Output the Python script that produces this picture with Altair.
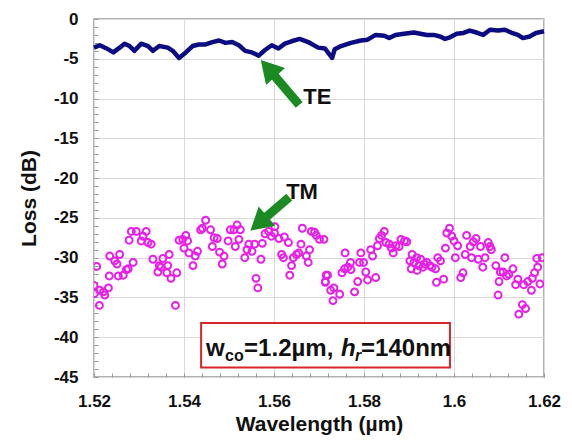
import altair as alt
import pandas as pd

# ---- TE trace (solid line) ----
te_wl = [1.5200, 1.5213, 1.5228, 1.5243, 1.5257, 1.5268, 1.5279, 1.5290, 1.5305, 1.5320,
         1.5331, 1.5345, 1.5364, 1.5375, 1.5389, 1.5404, 1.5419, 1.5433, 1.5448, 1.5463,
         1.5478, 1.5492, 1.5507, 1.5522, 1.5536, 1.5551, 1.5566, 1.5580, 1.5595, 1.5610,
         1.5624, 1.5639, 1.5657, 1.5676,
         1.5698, 1.5713, 1.5724, 1.5729, 1.5735, 1.5749, 1.5771, 1.5793, 1.5808, 1.5826,
         1.5845, 1.5856, 1.5870, 1.5889, 1.5911, 1.5925, 1.5940, 1.5955, 1.5969, 1.5980,
         1.5991, 1.6006, 1.6021, 1.6035, 1.6050, 1.6065, 1.6080, 1.6098, 1.6113, 1.6127,
         1.6142, 1.6153, 1.6168, 1.6182, 1.6200]
te_loss = [-3.6, -3.3, -3.7, -4.2, -3.6, -3.1, -3.4, -4.0, -3.1, -3.4,
           -4.0, -3.4, -3.6, -4.0, -4.9, -4.2, -3.4, -3.2, -3.2, -2.9,
           -2.7, -3.0, -2.9, -3.3, -4.0, -4.2, -4.6, -3.9, -3.3, -3.7,
           -3.1, -2.8, -2.5, -2.9,
           -3.6, -3.7, -4.5, -4.9, -3.8, -3.4, -3.0, -2.7, -2.6, -2.0,
           -2.1, -2.4, -2.0, -1.85, -1.7, -1.85, -2.0, -2.0, -2.2, -2.5,
           -2.3, -1.85, -1.75, -1.45, -1.7, -2.0, -1.35, -1.45, -1.35, -1.7,
           -2.0, -2.4, -2.2, -1.75, -1.55]

# ---- TM measurements (open circles) ----
tm_wl_a = [1.5200, 1.5201, 1.5206, 1.5212, 1.5213, 1.5221, 1.5224, 1.5232, 1.5235, 1.5234,
           1.5246, 1.5251, 1.5257, 1.5254, 1.5265, 1.5272, 1.5276, 1.5287, 1.5278, 1.5283,
           1.5294, 1.5305, 1.5309, 1.5316, 1.5320, 1.5327, 1.5331, 1.5345, 1.5342, 1.5353,
           1.5349, 1.5364, 1.5367, 1.5362, 1.5371, 1.5384, 1.5381, 1.5389, 1.5397, 1.5404,
           1.5408, 1.5400, 1.5411, 1.5420, 1.5425, 1.5430, 1.5437, 1.5441, 1.5448, 1.5459,
           1.5463, 1.5467, 1.5474, 1.5479, 1.5485, 1.5489, 1.5498, 1.5503, 1.5511, 1.5518,
           1.5525, 1.5514, 1.5522, 1.5535, 1.5540, 1.5544, 1.5551, 1.5557, 1.5560, 1.5564,
           1.5571, 1.5574, 1.5580, 1.5588, 1.5594, 1.5602, 1.5601, 1.5611, 1.5617, 1.5623,
           1.5632, 1.5621, 1.5635, 1.5639, 1.5643, 1.5650, 1.5655, 1.5660, 1.5663, 1.5672,
           1.5676, 1.5679, 1.5683, 1.5690, 1.5694, 1.5701, 1.5711, 1.5716, 1.5714]
tm_loss_a = [-33.5, -34.5, -31.1, -36.0, -34.1, -34.3, -34.7, -33.8, -29.8, -32.3,
             -30.4, -30.8, -29.6, -32.3, -32.2, -31.5, -31.4, -30.6, -27.8, -26.7,
             -26.7, -27.9, -27.3, -26.7, -28.1, -28.3, -30.2, -31.0, -31.8, -30.1,
             -31.2, -31.0, -29.6, -31.9, -32.6, -31.9, -36.0, -27.8, -27.7, -27.2,
             -27.9, -28.8, -29.4, -31.0, -29.8, -29.2, -26.5, -26.3, -25.3, -26.5,
             -28.6, -27.5, -27.6, -29.3, -30.8, -29.8, -27.9, -26.5, -26.5, -25.9,
             -26.5, -28.6, -27.7, -30.0, -29.0, -28.3, -29.2, -28.3, -32.6, -33.8,
             -30.2, -28.2, -27.0, -26.7, -27.3, -26.1, -26.9, -27.6, -29.6, -27.4,
             -28.1, -30.0, -32.2, -31.0, -30.0, -29.6, -29.4, -28.3, -26.3, -29.8,
             -30.6, -29.0, -26.7, -26.8, -27.2, -27.7, -27.7, -32.2, -33.1]
tm_wl_b = [1.5719, 1.5714, 1.5726, 1.5733, 1.5731, 1.5746, 1.5751, 1.5757, 1.5758, 1.5764,
           1.5770, 1.5771, 1.5779, 1.5786, 1.5790, 1.5793, 1.5799, 1.5804, 1.5808, 1.5815,
           1.5819, 1.5826, 1.5830, 1.5834, 1.5839, 1.5845, 1.5849, 1.5856, 1.5861, 1.5865,
           1.5871, 1.5878, 1.5882, 1.5890, 1.5895, 1.5907, 1.5902, 1.5905, 1.5911, 1.5917,
           1.5918, 1.5922, 1.5926, 1.5931, 1.5934, 1.5940, 1.5946, 1.5951, 1.5959, 1.5961,
           1.5964, 1.5970, 1.5977, 1.5981, 1.5984, 1.5990, 1.5995, 1.6000, 1.6003, 1.6008,
           1.6015, 1.6020, 1.6025, 1.6028, 1.6036, 1.6039, 1.6043, 1.6049, 1.6054, 1.6059,
           1.6064, 1.6069, 1.6076, 1.6080, 1.6083, 1.6093, 1.6098, 1.6100, 1.6103, 1.6113,
           1.6109, 1.6117, 1.6122, 1.6131, 1.6137, 1.6142, 1.6144, 1.6152, 1.6159, 1.6155,
           1.6164, 1.6172, 1.6174, 1.6179, 1.6184, 1.6186, 1.6191, 1.6196]
tm_loss_b = [-32.2, -33.0, -34.1, -33.8, -35.4, -34.6, -31.9, -31.4, -29.4, -31.2,
             -30.6, -31.5, -34.3, -33.0, -30.6, -29.4, -30.6, -31.8, -32.8, -29.0,
             -29.8, -32.5, -28.5, -27.6, -27.2, -26.7, -28.1, -28.3, -28.8, -29.4,
             -28.5, -28.6, -27.7, -27.9, -28.0, -29.6, -30.4, -31.4, -30.6, -30.0,
             -31.6, -31.0, -30.2, -31.2, -30.8, -30.6, -31.0, -31.2, -31.4, -33.1,
             -30.0, -30.4, -32.7, -28.8, -26.9, -26.3, -27.3, -27.9, -30.0, -28.5,
             -32.5, -31.9, -29.6, -27.2, -28.6, -30.0, -28.0, -27.6, -30.2, -28.6,
             -31.2, -30.0, -28.1, -28.6, -29.0, -31.0, -34.7, -33.0, -31.8, -30.0,
             -31.8, -32.3, -32.1, -31.4, -33.4, -32.7, -37.1, -35.9, -36.4, -33.4,
             -33.0, -34.1, -32.6, -31.9, -30.1, -31.2, -33.3, -30.0]

# ---- annotations ----
arrow_tail_wl = [1.5656, 1.5634]
arrow_tail_loss = [-10.8, -22.4]
arrow_head_wl = [1.5587, 1.5566]
arrow_head_loss = [-6.2, -25.7]
arrow_angle = [318, 229]
label_text = ["TE", "TM"]
label_wl = [1.5665, 1.5627]
label_loss = [-9.8, -21.8]
box_wl = [1.5438, 1.5991]
box_loss = [-38.2, -43.8]
box_text_loss = -42.4

x_ticks = [round(1.52 + 0.004 * i, 3) for i in range(26)]
y_ticks = list(range(-45, 1))

FONT = "Liberation Sans"
GREEN = "#1c8a22"

xs = alt.Scale(domain=[1.52, 1.62], nice=False, zero=False)
ys = alt.Scale(domain=[-45, 0], nice=False, zero=False)

major_x = "abs(datum.value*50 - round(datum.value*50)) < 0.000001"
major_y = "datum.value % 5 === 0"

common = dict(
    labelFont=FONT, labelFontWeight="bold", labelFontSize=17, labelColor="#111",
    titleFont=FONT, titleFontWeight="bold", titleFontSize=21, titleColor="#111",
    gridColor="#d9d9d9", gridWidth=1, tickColor="#999", tickWidth=1,
    labelFlush=False, labelOverlap=False, domain=False, tickSize=4, offset=-4,
)
x_axis = alt.Axis(
    values=x_ticks,
    labelExpr=f"({major_x}) ? toString(round(datum.value*100)/100) : ''",
    gridOpacity={"condition": {"test": major_x, "value": 1}, "value": 0},
    title="Wavelength (\u00b5m)", labelPadding=16, titlePadding=4,
    **common,
)
y_axis = alt.Axis(
    values=y_ticks,
    labelExpr=f"({major_y}) ? toString(datum.value) : ''",
    gridOpacity={"condition": {"test": major_y, "value": 1}, "value": 0},
    title="Loss (dB)", labelPadding=16, titlePadding=14,
    **common,
)


def X(field="wl"):
    return alt.X(f"{field}:Q", scale=xs, axis=x_axis)


def Y(field="loss"):
    return alt.Y(f"{field}:Q", scale=ys, axis=y_axis)


te_df = pd.DataFrame({"wl": te_wl, "loss": te_loss})
tm_df = pd.DataFrame({"wl": tm_wl_a + tm_wl_b, "loss": tm_loss_a + tm_loss_b})
arrow_df = pd.DataFrame({"wl": arrow_tail_wl, "loss": arrow_tail_loss,
                         "wl2": arrow_head_wl, "loss2": arrow_head_loss})
head_df = pd.DataFrame({"wl": arrow_head_wl, "loss": arrow_head_loss, "angle": arrow_angle})
label_df = pd.DataFrame({"wl": label_wl, "loss": label_loss, "t": label_text})
box_df = pd.DataFrame({"wl": [box_wl[0]], "wl2": [box_wl[1]],
                       "loss": [box_loss[0]], "loss2": [box_loss[1]]})
anchor_df = pd.DataFrame({"wl": [box_wl[0]], "loss": [box_text_loss]})

te = alt.Chart(te_df).mark_line(color="#0c0c82", strokeWidth=4.5, strokeJoin="round").encode(
    x=X(), y=Y(),
)
tm = alt.Chart(tm_df).mark_point(shape="circle", filled=False, size=48, strokeWidth=2,
                                 color="#e620e6", opacity=1, clip=True).encode(
    x=X(), y=Y(),
)
shafts = alt.Chart(arrow_df).mark_rule(color=GREEN, strokeWidth=9).encode(
    x=X(), y=Y(), x2="wl2:Q", y2="loss2:Q",
)
heads = alt.Chart(head_df).mark_point(shape="triangle-up", filled=True, size=650,
                                      color=GREEN, opacity=1).encode(
    x=X(), y=Y(), angle=alt.Angle("angle:Q", scale=None),
)
labels = alt.Chart(label_df).mark_text(font=FONT, fontWeight="bold", fontSize=22,
                                       align="left", baseline="middle", color="#111").encode(
    x=X(), y=Y(), text="t:N",
)
box = alt.Chart(box_df).mark_rect(fill="white", stroke="#d8262b", strokeWidth=2).encode(
    x=X(), x2="wl2:Q", y=Y(), y2="loss2:Q",
)


def piece(txt, dx, dy=0, size=24, style="normal"):
    return alt.Chart(anchor_df).mark_text(
        text=txt, font=FONT, fontWeight="bold", fontSize=size, fontStyle=style,
        align="left", baseline="alphabetic", dx=dx, dy=dy, color="#111").encode(
        x=X(), y=Y())


box_text = [
    piece("w", 5),
    piece("co", 24, 5, 16),
    piece("=1.2\u00b5m,", 43),
    piece("h", 140, 0, 24, "italic"),
    piece("r", 154, 5, 16, "italic"),
    piece("=140nm", 160),
]

chart = alt.layer(te, tm, shafts, heads, labels, box, *box_text).properties(
    width=450, height=358,
    background="white",
    autosize=alt.AutoSizeParams(type="none"),
    padding={"left": 86, "top": 11, "right": 20, "bottom": 63},
).configure_view(stroke="#999", strokeWidth=1.5)

chart.save("out.html", embed_options={"renderer": "svg", "actions": False})
